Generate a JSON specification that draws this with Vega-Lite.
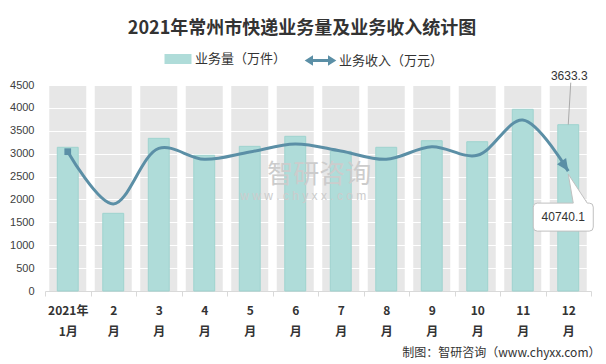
{
  "$schema": "https://vega.github.io/schema/vega-lite/v6.json",
  "width": 546,
  "height": 206,
  "autosize": {"type": "none"},
  "padding": {"left": 45, "top": 85, "right": 15, "bottom": 73},
  "background": "white",
  "title": {
    "text": "2021年常州市快递业务量及业务收入统计图",
    "font": "Noto Sans CJK SC",
    "fontSize": 18,
    "fontWeight": "bold",
    "color": "#333333",
    "anchor": "middle",
    "dx": -16,
    "offset": 11
  },
  "config": {
    "view": {"stroke": null, "fill": "#e7e7e7"},
    "axisX": {
      "domainColor": "#d9d9d9",
      "tickColor": "#d9d9d9",
      "tickSize": 5,
      "tickBand": "extent",
      "labelAngle": 0,
      "labelFont": "Noto Sans CJK SC",
      "labelFontWeight": "bold",
      "labelFontSize": 12,
      "labelColor": "#333333",
      "labelLineHeight": 21,
      "labelPadding": 9,
      "zindex": 1
    }
  },
  "data": {
    "values": [
      {"month": "2021年1月", "volume": 3139, "revenue": 47340},
      {"month": "2月", "volume": 1697, "revenue": 29560},
      {"month": "3月", "volume": 3335, "revenue": 48490},
      {"month": "4月", "volume": 2964, "revenue": 44750},
      {"month": "5月", "volume": 3160, "revenue": 47230},
      {"month": "6月", "volume": 3379, "revenue": 49950},
      {"month": "7月", "volume": 3050, "revenue": 47570},
      {"month": "8月", "volume": 3139, "revenue": 44750},
      {"month": "9月", "volume": 3283, "revenue": 49030},
      {"month": "10月", "volume": 3261, "revenue": 46110},
      {"month": "11月", "volume": 3969, "revenue": 58100},
      {"month": "12月", "volume": 3633.3, "revenue": 40740.1}
    ]
  },
  "encoding": {
    "x": {
      "field": "month",
      "type": "nominal",
      "scale": {
        "domain": ["2021年1月", "2月", "3月", "4月", "5月", "6月", "7月", "8月", "9月", "10月", "11月", "12月"],
        "paddingInner": 0,
        "paddingOuter": 0
      },
      "axis": {
        "labelExpr": "datum.label == '2021年1月' ? ['2021年', '1月'] : (datum.label ? [replace(datum.label, '月', ''), '月'] : '')",
        "title": "制图：智研咨询（www.chyxx.com）",
        "titleFont": "Noto Sans CJK SC",
        "titleFontWeight": "normal",
        "titleFontSize": 12,
        "titleColor": "#333333",
        "titleAnchor": "end",
        "titleAlign": "right",
        "titleBaseline": "middle",
        "titleX": 555,
        "titleY": 61
      }
    }
  },
  "layer": [
    {
      "mark": {"type": "rule", "color": "white", "strokeWidth": 8.5},
      "encoding": {
        "x": {"field": "month", "type": "nominal", "bandPosition": 0}
      }
    },
    {
      "transform": [{"filter": "datum.month === '12月'"}],
      "mark": {"type": "rule", "color": "white", "strokeWidth": 8.5},
      "encoding": {
        "x": {"field": "month", "type": "nominal", "bandPosition": 1}
      }
    },
    {
      "mark": {"type": "bar", "width": {"band": 0.46}, "stroke": "#9fd3cf", "strokeWidth": 1},
      "encoding": {
        "y": {
          "field": "volume",
          "type": "quantitative",
          "scale": {"domain": [0, 4500], "nice": false},
          "axis": {
            "orient": "left",
            "title": null,
            "values": [0, 500, 1000, 1500, 2000, 2500, 3000, 3500, 4000, 4500],
            "format": "d",
            "labelOverlap": false,
            "labelFlush": false,
            "domain": false,
            "ticks": false,
            "grid": true,
            "gridColor": "white",
            "gridWidth": 1,
            "labelFont": "Liberation Sans",
            "labelFontSize": 11,
            "labelColor": "#404040",
            "labelPadding": 11
          }
        },
        "fill": {
          "datum": "业务量（万件）",
          "type": "nominal",
          "scale": {"range": ["#afdcd9"]},
          "legend": {
            "orient": "none",
            "legendX": 123,
            "legendY": -36,
            "title": null,
            "symbolType": "M-1.35,-0.5H1.35V0.5H-1.35Z",
            "symbolSize": 400,
            "symbolStrokeWidth": 0,
            "labelOffset": 7,
            "labelFont": "Noto Sans CJK SC",
            "labelFontSize": 13,
            "labelColor": "#333333"
          }
        }
      }
    },
    {
      "transform": [{"filter": "datum.month === '2021年1月'"}],
      "mark": {"type": "text", "font": "Noto Sans CJK SC", "fontSize": 26, "color": "#cccccc", "dx": 24, "dy": -2},
      "encoding": {
        "x": {"datum": "6月"},
        "y": {"datum": 2500, "type": "quantitative", "scale": {"domain": [0, 4500], "nice": false}, "axis": null},
        "text": {"value": "智研咨询"}
      }
    },
    {
      "transform": [{"filter": "datum.month === '2021年1月'"}],
      "mark": {"type": "text", "font": "Liberation Sans", "fontSize": 12, "color": "#cccccc", "dx": 8, "dy": 19},
      "encoding": {
        "x": {"datum": "6月"},
        "y": {"datum": 2500, "type": "quantitative", "scale": {"domain": [0, 4500], "nice": false}, "axis": null},
        "text": {"value": "w w w . c h y x x . c o m"}
      }
    },
    {
      "transform": [{"filter": "datum.month === '12月'"}],
      "mark": {"type": "point", "shape": "M0,0L2.5,-42", "size": 4, "filled": false, "stroke": "#aaaaaa", "strokeWidth": 1, "opacity": 1},
      "encoding": {
        "y": {"field": "volume", "type": "quantitative", "scale": {"domain": [0, 4500], "nice": false}, "axis": null}
      }
    },
    {
      "transform": [{"filter": "datum.month === '12月'"}],
      "mark": {"type": "text", "font": "Liberation Sans", "fontSize": 12, "color": "#333333", "dx": 1, "dy": -49},
      "encoding": {
        "y": {"field": "volume", "type": "quantitative", "scale": {"domain": [0, 4500], "nice": false}, "axis": null},
        "text": {"field": "volume", "type": "quantitative"}
      }
    },
    {
      "mark": {"type": "line", "interpolate": "catmull-rom", "strokeWidth": 3},
      "encoding": {
        "y": {"field": "revenue", "type": "quantitative", "scale": {"domain": [0, 70000], "nice": false}, "axis": null},
        "stroke": {
          "datum": "业务收入（万元）",
          "type": "nominal",
          "scale": {"range": ["#5b8fa6"]},
          "legend": {
            "orient": "none",
            "legendX": 264,
            "legendY": -36,
            "title": null,
            "symbolType": "M-0.9,0L0.9,0M-1.3,0L-0.9,-0.25L-0.9,0.25ZM1.3,0L0.9,-0.25L0.9,0.25Z",
            "symbolSize": 400,
            "symbolStrokeWidth": 3,
            "symbolFillColor": "#5b8fa6",
            "labelOffset": 7,
            "labelFont": "Noto Sans CJK SC",
            "labelFontSize": 13,
            "labelColor": "#333333"
          }
        }
      }
    },
    {
      "transform": [{"filter": "datum.month === '2021年1月'"}],
      "mark": {"type": "point", "shape": "square", "size": 45, "filled": true, "color": "#5b8fa6", "opacity": 1},
      "encoding": {
        "y": {"field": "revenue", "type": "quantitative", "scale": {"domain": [0, 70000], "nice": false}, "axis": null}
      }
    },
    {
      "transform": [{"filter": "datum.month === '12月'"}],
      "mark": {"type": "point", "shape": "M-31,32L5,32L0,3L19,32L21,32Q25,32 25,36L25,56Q25,60 21,60L-31,60Q-35,60 -35,56L-35,36Q-35,32 -31,32Z", "size": 4, "fill": "white", "stroke": "#c0c0c0", "strokeWidth": 1, "opacity": 1},
      "encoding": {
        "y": {"field": "revenue", "type": "quantitative", "scale": {"domain": [0, 70000], "nice": false}, "axis": null}
      }
    },
    {
      "transform": [{"filter": "datum.month === '12月'"}],
      "mark": {"type": "point", "shape": "M0,0L0.55,1.2L-0.55,1.2Z", "size": 400, "angle": 146, "filled": true, "color": "#5b8fa6", "opacity": 1},
      "encoding": {
        "y": {"field": "revenue", "type": "quantitative", "scale": {"domain": [0, 70000], "nice": false}, "axis": null}
      }
    },
    {
      "transform": [{"filter": "datum.month === '12月'"}],
      "mark": {"type": "text", "font": "Liberation Sans", "fontSize": 12, "color": "#333333", "dx": -5, "dy": 46},
      "encoding": {
        "y": {"field": "revenue", "type": "quantitative", "scale": {"domain": [0, 70000], "nice": false}, "axis": null},
        "text": {"field": "revenue", "type": "quantitative"}
      }
    }
  ],
  "resolve": {"scale": {"y": "independent"}}
}
